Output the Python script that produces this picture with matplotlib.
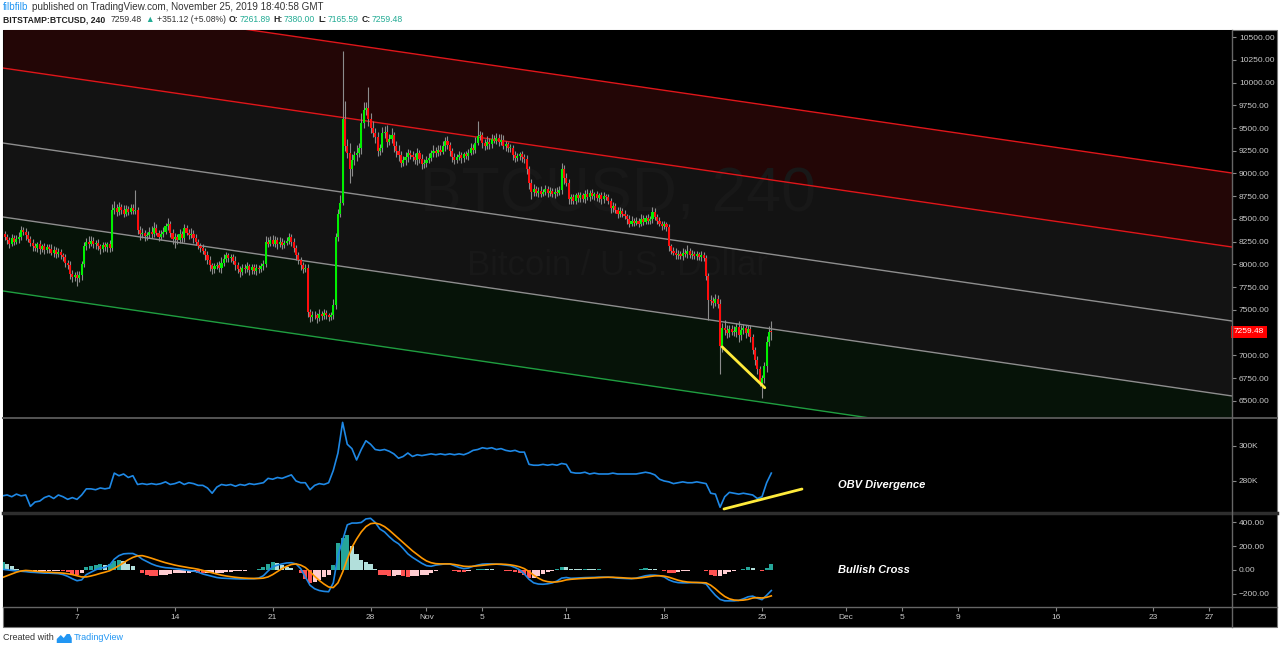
import numpy as np
import matplotlib
matplotlib.use('Agg')
import matplotlib.pyplot as plt
from matplotlib.lines import Line2D
from matplotlib.patches import Rectangle, Polygon
from matplotlib.transforms import blended_transform_factory

plt.rcParams['font.family'] = ['Liberation Sans', 'DejaVu Sans']

# ---------------- data ----------------
# 4h candles from Oct 1 16:00 to Nov 25 16:00 (x in days since Oct 1 00:00)
first_open = 8350
closes = [
    8340, 8300,                                  # Oct 1 (16h, 20h)
    8270, 8230, 8290, 8250, 8280, 8300,          # Oct 2
    8380, 8360, 8320, 8280, 8240, 8200,          # Oct 3
    8180, 8220, 8170, 8200, 8160, 8190,          # Oct 4
    8170, 8130, 8160, 8110, 8140, 8100,          # Oct 5
    8080, 8020, 7990, 7900, 7860, 7890,          # Oct 6
    7850, 7880, 8000, 8200, 8250, 8230,          # Oct 7
    8260, 8220, 8240, 8200, 8170, 8210,          # Oct 8
    8190, 8220, 8180, 8600, 8620, 8580,          # Oct 9
    8630, 8600, 8560, 8610, 8580, 8620,          # Oct 10
    8590, 8600, 8380, 8330, 8350, 8310,          # Oct 11
    8320, 8360, 8340, 8400, 8350, 8300,          # Oct 12
    8340, 8360, 8420, 8450, 8350, 8280,          # Oct 13
    8300, 8270, 8330, 8290, 8400, 8350,          # Oct 14
    8320, 8340, 8290, 8250, 8200, 8180,          # Oct 15
    8150, 8100, 8050, 7990, 7950, 7980,          # Oct 16
    7990, 7960, 8020, 8060, 8100, 8070,          # Oct 17
    8080, 8040, 7990, 7950, 7920, 7960,          # Oct 18
    7950, 7980, 7940, 7970, 7930, 7960,          # Oct 19
    7950, 7980, 8000, 8250, 8230, 8270,          # Oct 20
    8230, 8270, 8220, 8250, 8210, 8240,          # Oct 21
    8260, 8300, 8250, 8180, 8100, 8050,          # Oct 22
    7990, 7950, 7960, 7480, 7420, 7450,          # Oct 23
    7440, 7410, 7460, 7430, 7470, 7440,          # Oct 24
    7420, 7440, 7560, 8300, 8550, 8680,          # Oct 25
    9600, 9300, 9230, 9050, 9150, 9200,          # Oct 26
    9230, 9280, 9550, 9700, 9720, 9600,          # Oct 27
    9500, 9450, 9400, 9250, 9280, 9440,          # Oct 28
    9460, 9350, 9380, 9420, 9300, 9250,          # Oct 29
    9200, 9120, 9150, 9180, 9220, 9200,          # Oct 30
    9180, 9150, 9220, 9160, 9100, 9120,          # Oct 31
    9150, 9170, 9220, 9250, 9230, 9260,          # Nov 1
    9240, 9300, 9360, 9310, 9250, 9180,          # Nov 2
    9150, 9180, 9200, 9170, 9210, 9190,          # Nov 3
    9230, 9280, 9260, 9340, 9410, 9420,          # Nov 4
    9330, 9300, 9350, 9320, 9380, 9360,          # Nov 5
    9390, 9350, 9370, 9300, 9320, 9280,          # Nov 6
    9280, 9200, 9170, 9190, 9210, 9180,          # Nov 7
    9160, 9050, 8900, 8800, 8830, 8790,          # Nov 8
    8810, 8780, 8800, 8830, 8790, 8810,          # Nov 9
    8780, 8800, 8790, 8820, 9050, 8950,          # Nov 10
    8900, 8720, 8740, 8700, 8760, 8730,          # Nov 11
    8760, 8720, 8780, 8740, 8790, 8750,          # Nov 12
    8770, 8730, 8760, 8720, 8750, 8740,          # Nov 13
    8700, 8620, 8640, 8600, 8560, 8590,          # Nov 14
    8560, 8530, 8500, 8450, 8480, 8460,          # Nov 15
    8480, 8450, 8500, 8470, 8510, 8480,          # Nov 16
    8500, 8580, 8520, 8480, 8450, 8420,          # Nov 17
    8440, 8410, 8200, 8150, 8130, 8100,          # Nov 18
    8120, 8090, 8130, 8110, 8150, 8100,          # Nov 19
    8120, 8090, 8110, 8080, 8100, 8070,          # Nov 20
    7870, 7610, 7600, 7580, 7620, 7570,          # Nov 21
    7100, 7300, 7280, 7250, 7290, 7260,          # Nov 22
    7260, 7310, 7220, 7280, 7300, 7250,          # Nov 23
    7290, 7200, 7060, 6950, 6850, 6700,          # Nov 24
    6750, 6880, 7150, 7261.89, 7259.48,          # Nov 25
]
upper_wick = [
    40, 30,
    40, 30, 50, 30, 40, 60,
    40, 30, 40, 50, 30, 40,
    40, 30, 50, 30, 40, 30,
    30, 50, 40, 30, 40, 30,
    30, 40, 30, 50, 40, 30,
    40, 50, 40, 50, 40, 60,
    50, 40, 30, 40, 30, 40,
    40, 30, 50, 60, 80, 40,
    60, 40, 50, 40, 30, 50,
    40, 220, 30, 40, 50, 30,
    40, 50, 60, 70, 40, 30,
    40, 50, 40, 60, 30, 40,
    50, 40, 60, 40, 50, 30,
    40, 60, 40, 50, 30, 40,
    40, 30, 50, 40, 30, 40,
    40, 50, 60, 50, 40, 30,
    40, 30, 50, 40, 30, 40,
    40, 50, 30, 40, 30, 40,
    30, 40, 50, 60, 50, 40,
    50, 40, 30, 50, 40, 30,
    40, 50, 30, 40, 30, 40,
    30, 40, 50, 40, 30, 40,
    40, 30, 50, 30, 40, 30,
    30, 40, 60, 50, 60, 80,
    750, 200, 80, 100, 60, 50,
    80, 60, 120, 90, 70, 230,
    60, 80, 50, 60, 40, 70,
    60, 70, 50, 80, 40, 60,
    60, 50, 40, 60, 50, 40,
    50, 40, 60, 40, 50, 40,
    40, 50, 40, 60, 40, 50,
    50, 60, 40, 50, 40, 30,
    40, 30, 50, 40, 30, 40,
    40, 50, 40, 60, 170, 50,
    40, 50, 60, 40, 50, 40,
    50, 40, 60, 50, 40, 30,
    40, 30, 50, 40, 30, 40,
    30, 40, 30, 40, 50, 30,
    40, 50, 30, 40, 30, 40,
    30, 40, 50, 40, 60, 40,
    50, 40, 30, 40, 30, 40,
    40, 30, 40, 50, 30, 40,
    30, 40, 30, 40, 50, 30,
    40, 30, 50, 40, 30, 40,
    30, 40, 30, 40, 50, 30,
    40, 30, 50, 40, 30, 40,
    30, 50, 40, 30, 40, 30,
    40, 30, 40, 30, 40, 50,
    40, 30, 50, 40, 60, 30,
    40, 30, 40, 30, 50, 40,
    30, 40, 50, 40, 60, 40,
    50, 60, 90, 60, 50, 40,
    60, 50, 70, 60, 50, 40,
    40, 50, 40, 30, 40, 30,
    40, 50, 60, 60, 118,
]
lower_wick = [
    40, 30,
    40, 50, 30, 40, 30, 40,
    30, 40, 50, 30, 40, 50,
    30, 40, 50, 30, 40, 30,
    40, 30, 50, 40, 30, 40,
    40, 50, 40, 60, 50, 40,
    90, 40, 50, 30, 40, 50,
    30, 40, 50, 40, 60, 30,
    40, 50, 40, 30, 40, 50,
    40, 50, 40, 30, 40, 30,
    30, 40, 50, 60, 40, 50,
    40, 30, 50, 40, 30, 40,
    30, 40, 30, 40, 50, 60,
    100, 40, 30, 50, 40, 30,
    40, 30, 50, 40, 30, 40,
    40, 50, 40, 60, 50, 40,
    30, 40, 50, 40, 30, 40,
    40, 30, 50, 40, 60, 40,
    40, 30, 50, 40, 30, 40,
    40, 30, 40, 30, 40, 30,
    30, 40, 50, 30, 40, 30,
    30, 40, 50, 40, 50, 40,
    50, 40, 30, 60, 50, 40,
    40, 50, 30, 40, 30, 40,
    40, 30, 40, 50, 40, 30,
    30, 50, 60, 150, 80, 60,
    60, 50, 70, 50, 60, 80,
    60, 50, 70, 60, 50, 40,
    50, 60, 40, 50, 60, 70,
    60, 50, 40, 60, 50, 40,
    40, 50, 60, 40, 50, 40,
    50, 40, 30, 40, 50, 40,
    40, 30, 50, 40, 60, 50,
    50, 40, 30, 50, 40, 30,
    40, 30, 50, 40, 30, 40,
    50, 40, 30, 50, 40, 30,
    40, 50, 40, 30, 50, 40,
    40, 50, 40, 30, 40, 50,
    40, 60, 70, 80, 50, 40,
    50, 40, 30, 40, 50, 40,
    40, 50, 40, 30, 40, 60,
    40, 60, 50, 40, 30, 40,
    40, 30, 40, 30, 40, 30,
    40, 30, 40, 50, 40, 30,
    40, 50, 40, 30, 50, 40,
    40, 30, 50, 40, 30, 40,
    30, 40, 30, 40, 30, 40,
    30, 40, 30, 40, 30, 40,
    30, 40, 50, 40, 30, 40,
    40, 30, 40, 30, 40, 30,
    40, 30, 40, 30, 40, 30,
    40, 220, 50, 60, 40, 50,
    300, 60, 50, 60, 50, 40,
    50, 60, 70, 50, 40, 60,
    40, 50, 40, 60, 50, 40,
    170, 50, 60, 50, 94,
]

# indicators sampled every 8h (00, 08, 16 of each day), from Oct 1 16:00
obv_k = [
    271.5,
    272, 271, 272.5,        # Oct 2
    271.5, 272, 265.5,      # Oct 3
    268, 268.5, 270.5,      # Oct 4
    271.5, 270, 272,        # Oct 5
    271, 269.5, 270.5,      # Oct 6
    269.5, 272, 275.5,      # Oct 7
    275.5, 275, 276,        # Oct 8
    275.5, 276, 284.5,      # Oct 9
    283, 284, 282,          # Oct 10
    283, 278, 278.5,        # Oct 11
    278, 278.5, 278,        # Oct 12
    278.5, 279.5, 278,      # Oct 13
    278.5, 279.5, 278,      # Oct 14
    279, 278.5, 277.5,      # Oct 15
    277.5, 276, 273,        # Oct 16
    276.5, 278, 277.5,      # Oct 17
    278, 277, 278,          # Oct 18
    277.5, 278.5, 278,      # Oct 19
    278.5, 279, 281.5,      # Oct 20
    281, 282, 281.5,        # Oct 21
    282.5, 283.5, 280,      # Oct 22
    279, 279, 275,          # Oct 23
    277.5, 278.5, 278,      # Oct 24
    279, 286, 296,          # Oct 25
    313.5, 301, 298.5,      # Oct 26
    292, 298, 303,          # Oct 27
    301, 298, 297.5,        # Oct 28
    298, 297, 295.5,        # Oct 29
    293, 294, 296,          # Oct 30
    294, 295, 294.5,        # Oct 31
    295, 295.5, 295,        # Nov 1
    295.5, 295, 295.5,      # Nov 2
    295, 295.5, 295,        # Nov 3
    296, 297.5, 298,        # Nov 4
    299, 298.5, 299,        # Nov 5
    298, 298.5, 297.5,      # Nov 6
    297, 297.5, 296.5,      # Nov 7
    296.5, 289.5, 289,      # Nov 8
    289, 289.5, 289,        # Nov 9
    289.5, 289, 290,        # Nov 10
    289.5, 285, 284.5,      # Nov 11
    284.5, 285, 284,        # Nov 12
    284.5, 284, 284,        # Nov 13
    284, 284.5, 284,        # Nov 14
    284, 284, 284,          # Nov 15
    284, 284.5, 285,        # Nov 16
    284.5, 283.5, 281,      # Nov 17
    280, 279.5, 278.5,      # Nov 18
    279, 279.5, 279,        # Nov 19
    279, 279.5, 279,        # Nov 20
    278.5, 273, 272.5,      # Nov 21
    265, 271, 273.5,        # Nov 22
    273, 272.5, 273,        # Nov 23
    272.5, 272, 270,        # Nov 24
    271, 279, 284.5,        # Nov 25
]
macd_line = [
    5,
    0, -5, -10,
    -12, -15, -20,
    -22, -25, -28,
    -28, -30, -32,
    -40, -55, -75,
    -92, -85, -40,
    -20, 0, 15,
    20, 40, 90,
    120, 135, 138,
    138, 120, 90,
    70, 50, 35,
    25, 18, 15,
    10, 5, 0,
    -5, -10, -20,
    -35, -45, -55,
    -65, -70, -72,
    -74, -76, -77,
    -77, -76, -75,
    -70, -50, -10,
    25, 40, 50,
    58, 60, 50,
    10, -60, -130,
    -160, -175, -182,
    -185, -110, 120,
    250, 380, 395,
    395, 400, 430,
    435, 400, 345,
    320, 280, 245,
    220, 180, 135,
    105, 80, 55,
    35, 30, 40,
    45, 50, 50,
    35, 20, 10,
    15, 30, 40,
    48, 50, 50,
    48, 45, 40,
    35, 20, 0,
    -35, -80, -110,
    -120, -122, -118,
    -110, -95, -70,
    -65, -72, -70,
    -68, -66, -65,
    -64, -62, -62,
    -62, -65, -70,
    -72, -74, -75,
    -70, -60, -50,
    -45, -45, -50,
    -60, -85, -100,
    -108, -110, -110,
    -108, -108, -110,
    -120, -170, -215,
    -250, -262, -262,
    -262, -258, -245,
    -228, -222, -240,
    -252, -215, -175,
]
signal_line = [
    -65,
    -50, -35, -20,
    -10, -5, -8,
    -12, -15, -18,
    -20, -23, -25,
    -28, -33, -40,
    -50, -60, -60,
    -52, -42, -30,
    -20, -8, 12,
    35, 60, 85,
    105, 118, 120,
    110, 98, 85,
    72, 60, 50,
    40, 32, 25,
    18, 12, 5,
    -5, -15, -25,
    -35, -45, -52,
    -58, -63, -67,
    -70, -72, -73,
    -73, -70, -60,
    -40, -15, 10,
    30, 45, 50,
    40, 20, -15,
    -55, -90, -120,
    -145, -150, -110,
    -20, 90, 190,
    260, 320, 365,
    390, 395, 385,
    365, 335, 300,
    265, 230, 195,
    160, 130, 100,
    75, 60, 52,
    50, 50, 50,
    45, 38, 30,
    28, 30, 34,
    38, 42, 46,
    48, 48, 46,
    42, 35, 25,
    10, -15, -45,
    -70, -90, -100,
    -104, -102, -95,
    -85, -80, -77,
    -74, -72, -70,
    -68, -66, -64,
    -63, -63, -65,
    -67, -70, -72,
    -72, -68, -62,
    -56, -51, -50,
    -53, -62, -75,
    -88, -97, -103,
    -106, -107, -108,
    -110, -130, -160,
    -195, -225, -245,
    -255, -258, -256,
    -250, -238, -235,
    -238, -232, -220,
]

# regression channel: price of each line at the left and right chart edge
chan_days = [0.707, 88.62]
chan_red_top = [10973, 9005]
chan_red_mid = [10159, 8192]
chan_gray_mid = [9335, 7379]
chan_gray_low = [8522, 6555]
chan_green = [7709, 5730]

# hand-drawn yellow divergence lines
price_div_days = [52.15, 55.2]
price_div_vals = [7095, 6645]
obv_div_days = [52.28, 57.86]
obv_div_vals = [264, 275.4]

tick_days = [6, 13, 20, 27, 31, 35, 41, 48, 55, 61, 65, 69, 76, 83, 87]
tick_names = ['7', '14', '21', '28', 'Nov', '5', '11', '18', '25', 'Dec', '5', '9', '16', '23', '27']

assert len(closes) == len(upper_wick) == len(lower_wick) == 331
assert len(obv_k) == len(macd_line) == len(signal_line) == 166

# ---------------- figure ----------------
W, H = 1281, 650
fig = plt.figure(figsize=(W / 100, H / 100), dpi=100)
fig.patch.set_facecolor('white')


def fx(px):
    return px / W


def fy(py):
    return 1 - py / H


fig.add_artist(Rectangle((fx(3), fy(627)), fx(1277) - fx(3), fy(30) - fy(627),
                         transform=fig.transFigure, facecolor='black',
                         edgecolor='#777777', lw=0.8, zorder=-5))

XMIN, XMAX = 0.707, 88.62
LABEL_SIZE = 6.0


def panel(top, bottom):
    ax = fig.add_axes([fx(3), fy(bottom), fx(1232) - fx(3), fy(top) - fy(bottom)])
    ax.set_facecolor('black')
    for s in ax.spines.values():
        s.set_visible(False)
    ax.set_xlim(XMIN, XMAX)
    ax.yaxis.tick_right()
    ax.tick_params(axis='y', length=3, width=0.8, color='#8a8a8a',
                   labelcolor='#c8c8c8', labelsize=LABEL_SIZE, pad=2)
    ax.tick_params(axis='x', bottom=False, labelbottom=False)
    return ax


# ---- price panel ----
ax = panel(30, 418)
ax.set_ylim(6313, 10577)
ax.fill_between(chan_days, chan_red_top, chan_red_mid, color='#230606', lw=0, zorder=0)
ax.fill_between(chan_days, chan_red_mid, chan_gray_low, color='#131313', lw=0, zorder=0)
ax.fill_between(chan_days, chan_gray_low, chan_green, color='#061308', lw=0, zorder=0)
ax.plot(chan_days, chan_red_top, color='#e0161a', lw=1, zorder=1)
ax.plot(chan_days, chan_red_mid, color='#e0161a', lw=1, zorder=1)
ax.plot(chan_days, chan_gray_mid, color='#8e8e8e', lw=1, zorder=1)
ax.plot(chan_days, chan_gray_low, color='#8e8e8e', lw=1, zorder=1)
ax.plot(chan_days, chan_green, color='#1f9e40', lw=1, zorder=1)

ax.text(0.5, 0.575, 'BTCUSD, 240', transform=ax.transAxes, ha='center', va='center',
        fontsize=45, color='#181818', zorder=0.5)
ax.text(0.5, 0.394, 'Bitcoin / U.S. Dollar', transform=ax.transAxes, ha='center',
        va='center', fontsize=25, color='#181818', zorder=0.5)

c = np.array(closes, dtype=float)
o = np.r_[first_open, c[:-1]]
hi = np.maximum(o, c) + np.array(upper_wick)
lo = np.minimum(o, c) - np.array(lower_wick)
cdays = 2 / 3 + np.arange(len(c)) / 6
up = c >= o
ax.vlines(cdays, lo, hi, color='#8c8c8c', lw=0.8, zorder=2)
ax.bar(cdays, np.maximum(np.abs(c - o), 8), bottom=np.minimum(o, c), width=0.15,
       color=np.where(up, '#00f000', '#ff0d0d'), lw=0, zorder=3)

ax.plot(price_div_days, price_div_vals, color='#ffeb3b', lw=2, zorder=4,
        solid_capstyle='round')

ticks = np.arange(6500, 10501, 250)
ax.set_yticks(ticks)
# the 7250 label sits under the last-price box, as on the reference
ax.set_yticklabels(['' if t == 7250 else '%.2f' % t for t in ticks])
bt = blended_transform_factory(ax.transAxes, ax.transData)
ax.text(1.0015, c[-1], '%.2f' % c[-1], transform=bt, ha='left', va='center',
        fontsize=LABEL_SIZE, color='white', zorder=6,
        bbox=dict(facecolor='#ff0000', edgecolor='none', pad=2.0))

# ---- OBV panel ----
kdays = 2 / 3 + np.arange(len(obv_k)) / 3
ax2 = panel(418, 513)
ax2.set_ylim(261.7, 316)
ax2.plot(kdays, obv_k, color='#1e88e5', lw=1.2)
ax2.plot(obv_div_days, obv_div_vals, color='#ffeb3b', lw=2, solid_capstyle='round')
ax2.set_yticks([280, 300])
ax2.set_yticklabels(['280K', '300K'])
ax2.text(60.43, 277.7, 'OBV Divergence', color='white', fontsize=8,
         fontweight='bold', fontstyle='italic', va='center', ha='left')

# ---- MACD panel ----
ax3 = panel(513, 607)
ax3.set_ylim(-314, 480)
m = np.array(macd_line, dtype=float)
s = np.array(signal_line, dtype=float)
hist = m - s
prev = np.r_[hist[0], hist[:-1]]
hcol = np.where(hist >= 0, np.where(hist >= prev, '#26a69a', '#b2dfdb'),
                np.where(hist < prev, '#ff5252', '#ffcdd2'))
ax3.bar(kdays, hist, width=0.3, color=hcol, lw=0, zorder=1)
ax3.plot(kdays, m, color='#1e88e5', lw=1.2, zorder=2)
ax3.plot(kdays, s, color='#ff9800', lw=1.2, zorder=3)
ax3.set_yticks([-200, 0, 200, 400])
ax3.set_yticklabels(['\u2212200.00', '0.00', '200.00', '400.00'])
ax3.text(60.43, 0, 'Bullish Cross', color='white', fontsize=8,
         fontweight='bold', fontstyle='italic', va='center', ha='left')
ax3.tick_params(axis='x', bottom=True, labelbottom=True, length=3, width=0.8,
                color='#8a8a8a', labelcolor='#c8c8c8', labelsize=LABEL_SIZE, pad=2.0)
ax3.set_xticks(tick_days)
ax3.set_xticklabels(tick_names)

# panel separators and axis border
for y, col, lw in [(418, '#555555', 1.4), (513, '#2e2e2e', 2.5), (607, '#666666', 1.0)]:
    fig.add_artist(Line2D([fx(3), fx(1277)], [fy(y), fy(y)], color=col, lw=lw,
                          transform=fig.transFigure))
fig.add_artist(Line2D([fx(1232), fx(1232)], [fy(30), fy(627)], color='#666666', lw=1.0,
                      transform=fig.transFigure))

# ---- header / footer ----
renderer = fig.canvas.get_renderer()


def seq_text(x_px, y_px, parts, size):
    x = x_px
    for txt, col, weight, gap in parts:
        t = fig.text(fx(x), fy(y_px), txt, color=col, fontsize=size, fontweight=weight,
                     ha='left', va='center')
        x += t.get_window_extent(renderer).width + gap
    return x


teal = '#22ab94'
seq_text(3, 7, [('filbfilb', '#2196f3', 'normal', 3),
                ('published on TradingView.com, November 25, 2019 18:40:58 GMT', '#333333', 'normal', 0)], 7.1)
seq_text(3, 19.5, [('BITSTAMP:BTCUSD, 240', '#222222', 'bold', 5),
                   ('7259.48', '#333333', 'normal', 4),
                   ('\u25b2', teal, 'normal', 3),
                   ('+351.12 (+5.08%)', '#333333', 'normal', 3),
                   ('O:', '#222222', 'bold', 1), ('7261.89', teal, 'normal', 3),
                   ('H:', '#222222', 'bold', 1), ('7380.00', teal, 'normal', 3),
                   ('L:', '#222222', 'bold', 1), ('7165.59', teal, 'normal', 3),
                   ('C:', '#222222', 'bold', 1), ('7259.48', teal, 'normal', 0)], 6.2)

xe = seq_text(3, 638, [('Created with', '#333333', 'normal', 3)], 6.5)
logo = [(0, 10), (0, 6), (4, 2), (7, 5), (10, 1), (13, 1), (15, 5), (15, 10)]
fig.add_artist(Polygon([(fx(xe + px), fy(633 + py)) for px, py in logo], closed=True,
                       transform=fig.transFigure, facecolor='#2196f3', edgecolor='none'))
seq_text(xe + 17, 638, [('TradingView', '#2196f3', 'normal', 0)], 6.5)

fig.savefig('out.png', dpi=100, facecolor='white')
